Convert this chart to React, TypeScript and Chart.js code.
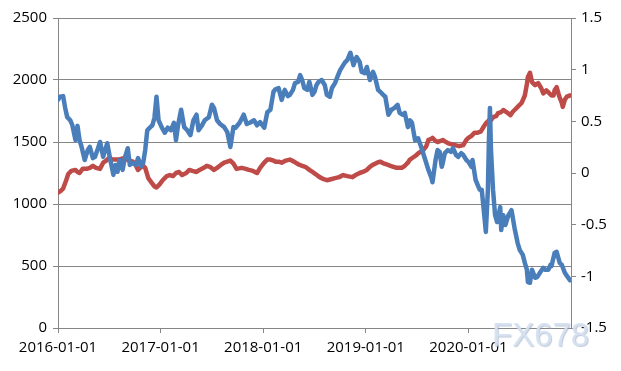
import React, { useEffect, useRef } from "react";
import { Chart, registerables } from "chart.js";

Chart.register(...registerables);

// x values are decimal years
const blueX = [
  2016.00, 2016.02, 2016.05, 2016.07, 2016.09, 2016.12, 2016.14, 2016.17, 2016.19, 2016.21,
  2016.23, 2016.26, 2016.29, 2016.31, 2016.34, 2016.36, 2016.39, 2016.41, 2016.44, 2016.46,
  2016.48, 2016.51, 2016.54, 2016.56, 2016.58, 2016.60, 2016.63, 2016.65, 2016.68, 2016.70,
  2016.73, 2016.76, 2016.78, 2016.81, 2016.83, 2016.85, 2016.87, 2016.90, 2016.92, 2016.94,
  2016.96, 2016.98, 2017.01, 2017.04, 2017.07, 2017.10, 2017.13, 2017.15, 2017.17, 2017.20,
  2017.23, 2017.26, 2017.29, 2017.32, 2017.35, 2017.37, 2017.40, 2017.43, 2017.47, 2017.50,
  2017.52, 2017.55, 2017.58, 2017.62, 2017.65, 2017.68, 2017.71, 2017.73, 2017.77, 2017.81,
  2017.84, 2017.87, 2017.91, 2017.94, 2017.97, 2018.01, 2018.04, 2018.07, 2018.10, 2018.12,
  2018.15, 2018.18, 2018.21, 2018.24, 2018.26, 2018.29, 2018.31, 2018.34, 2018.36, 2018.38,
  2018.40, 2018.43, 2018.45, 2018.48, 2018.50, 2018.52, 2018.54, 2018.57, 2018.60, 2018.62,
  2018.65, 2018.67, 2018.70, 2018.73, 2018.75, 2018.78, 2018.80, 2018.82, 2018.85, 2018.88,
  2018.89, 2018.91, 2018.94, 2018.96, 2018.99, 2019.01, 2019.04, 2019.07, 2019.09, 2019.12,
  2019.14, 2019.17, 2019.19, 2019.22, 2019.25, 2019.28, 2019.31, 2019.33, 2019.36, 2019.38,
  2019.41, 2019.43, 2019.45, 2019.48, 2019.51, 2019.54, 2019.58, 2019.61, 2019.64, 2019.65,
  2019.68, 2019.70, 2019.72, 2019.74, 2019.75, 2019.77, 2019.80, 2019.83, 2019.85, 2019.88,
  2019.90, 2019.93, 2019.95, 2019.98, 2020.00, 2020.03, 2020.04, 2020.07, 2020.09, 2020.11,
  2020.13, 2020.15, 2020.17, 2020.19, 2020.20, 2020.21, 2020.22, 2020.24, 2020.26, 2020.28,
  2020.31, 2020.32, 2020.34, 2020.36, 2020.39, 2020.41, 2020.42, 2020.45, 2020.48, 2020.50,
  2020.53, 2020.55, 2020.57, 2020.58, 2020.60, 2020.62, 2020.65, 2020.67, 2020.70, 2020.73,
  2020.75, 2020.78, 2020.80, 2020.81, 2020.84, 2020.86, 2020.89, 2020.91, 2020.94, 2020.96,
  2020.99,
];

const blueValues = [
  1840, 1865, 1870, 1775, 1700, 1675, 1635, 1515, 1630, 1515,
  1460, 1355, 1435, 1460, 1370, 1380, 1450, 1500, 1380, 1435,
  1490, 1355, 1235, 1315, 1260, 1355, 1275, 1370, 1450, 1315,
  1330, 1315, 1370, 1305, 1330, 1435, 1595, 1620, 1635, 1695,
  1865, 1675, 1620, 1575, 1615, 1595, 1655, 1515, 1635, 1760,
  1620, 1595, 1555, 1675, 1720, 1595, 1630, 1675, 1700, 1800,
  1775, 1675, 1645, 1620, 1580, 1460, 1620, 1615, 1655, 1720,
  1645, 1655, 1675, 1635, 1660, 1615, 1740, 1760, 1905, 1925,
  1935, 1840, 1920, 1870, 1880, 1920, 1975, 1985, 2040, 2000,
  1935, 1920, 1985, 1880, 1905, 1960, 1985, 2000, 1960, 1880,
  1865, 1935, 1975, 2040, 2080, 2120, 2145, 2160, 2220, 2120,
  2145, 2185, 2145, 2065, 2055, 2105, 2000, 2065, 2025, 1920,
  1905, 1880, 1865, 1720, 1760, 1775, 1800, 1735, 1720, 1735,
  1620, 1675, 1655, 1515, 1530, 1460, 1355, 1275, 1210, 1175,
  1355, 1435, 1420, 1300, 1330, 1410, 1435, 1420, 1450, 1395,
  1380, 1410, 1395, 1355, 1340, 1300, 1355, 1195, 1155, 1115,
  1115, 950, 775, 1115, 1515, 1775, 1435, 1115, 910, 855,
  975, 790, 910, 830, 910, 935, 950, 805, 685, 630,
  590, 525, 470, 370, 365, 470, 405, 410, 450, 485,
  470, 470, 510, 500, 605, 615, 525, 510, 445, 420,
  385,
];

const redX = [
  2016.00, 2016.03, 2016.05, 2016.08, 2016.10, 2016.13, 2016.17, 2016.19, 2016.21, 2016.24,
  2016.28, 2016.31, 2016.34, 2016.37, 2016.41, 2016.44, 2016.47, 2016.50, 2016.53, 2016.56,
  2016.59, 2016.63, 2016.67, 2016.70, 2016.73, 2016.76, 2016.78, 2016.80, 2016.83, 2016.85,
  2016.88, 2016.91, 2016.94, 2016.96, 2016.99, 2017.02, 2017.06, 2017.09, 2017.12, 2017.15,
  2017.18, 2017.21, 2017.25, 2017.28, 2017.31, 2017.35, 2017.38, 2017.42, 2017.45, 2017.48,
  2017.52, 2017.55, 2017.59, 2017.62, 2017.65, 2017.68, 2017.71, 2017.74, 2017.79, 2017.83,
  2017.86, 2017.90, 2017.94, 2017.97, 2018.01, 2018.04, 2018.07, 2018.10, 2018.12, 2018.15,
  2018.18, 2018.22, 2018.26, 2018.30, 2018.35, 2018.38, 2018.41, 2018.45, 2018.48, 2018.51,
  2018.55, 2018.59, 2018.62, 2018.66, 2018.70, 2018.74, 2018.78, 2018.82, 2018.87, 2018.90,
  2018.94, 2018.97, 2019.01, 2019.04, 2019.07, 2019.11, 2019.14, 2019.18, 2019.21, 2019.24,
  2019.27, 2019.30, 2019.35, 2019.38, 2019.41, 2019.43, 2019.46, 2019.49, 2019.51, 2019.54,
  2019.56, 2019.59, 2019.61, 2019.64, 2019.65, 2019.68, 2019.70, 2019.73, 2019.75, 2019.78,
  2019.80, 2019.83, 2019.87, 2019.91, 2019.95, 2019.98, 2020.00, 2020.03, 2020.06, 2020.09,
  2020.12, 2020.15, 2020.17, 2020.20, 2020.22, 2020.24, 2020.27, 2020.29, 2020.32, 2020.34,
  2020.37, 2020.41, 2020.43, 2020.45, 2020.48, 2020.52, 2020.55, 2020.57, 2020.58, 2020.60,
  2020.62, 2020.65, 2020.68, 2020.71, 2020.73, 2020.76, 2020.78, 2020.81, 2020.83, 2020.84,
  2020.86, 2020.88, 2020.89, 2020.91, 2020.92, 2020.94, 2020.96, 2020.99,
];

const redValues = [
  -0.19, -0.17, -0.15, -0.07, -0.01, 0.02, 0.03, 0.01, 0.00, 0.04,
  0.04, 0.05, 0.07, 0.05, 0.04, 0.10, 0.12, 0.15, 0.13, 0.13,
  0.13, 0.14, 0.13, 0.12, 0.11, 0.07, 0.03, 0.05, 0.07, 0.05,
  -0.05, -0.09, -0.13, -0.14, -0.11, -0.07, -0.03, -0.02, -0.03, 0.00,
  0.01, -0.02, 0.00, 0.03, 0.02, 0.01, 0.03, 0.05, 0.07, 0.06,
  0.03, 0.05, 0.08, 0.10, 0.11, 0.12, 0.09, 0.04, 0.05, 0.04,
  0.03, 0.02, 0.00, 0.05, 0.10, 0.13, 0.13, 0.12, 0.11, 0.11,
  0.10, 0.12, 0.13, 0.11, 0.08, 0.07, 0.06, 0.03, 0.01, -0.01,
  -0.04, -0.06, -0.07, -0.06, -0.05, -0.04, -0.02, -0.03, -0.04, -0.02,
  0.00, 0.01, 0.03, 0.06, 0.08, 0.10, 0.11, 0.09, 0.08, 0.07,
  0.06, 0.05, 0.05, 0.07, 0.10, 0.13, 0.15, 0.17, 0.19, 0.21,
  0.22, 0.26, 0.32, 0.33, 0.34, 0.31, 0.30, 0.31, 0.32, 0.30,
  0.29, 0.28, 0.27, 0.26, 0.27, 0.32, 0.34, 0.36, 0.39, 0.39,
  0.40, 0.45, 0.48, 0.51, 0.51, 0.54, 0.55, 0.58, 0.59, 0.61,
  0.59, 0.56, 0.59, 0.61, 0.64, 0.68, 0.75, 0.86, 0.93, 0.97,
  0.88, 0.85, 0.87, 0.82, 0.77, 0.80, 0.78, 0.75, 0.75, 0.80,
  0.83, 0.76, 0.73, 0.68, 0.64, 0.71, 0.74, 0.75,
];

const yearTicks = [2016, 2017, 2018, 2019, 2020];
const leftTicks = [0, 500, 1000, 1500, 2000, 2500];
const rightTicks = [-1.5, -1, -0.5, 0, 0.5, 1, 1.5];
const watermark = "FX678";

const FONT = { family: "'Open Sans', sans-serif", size: 15 };
const GRID = "#868686";

export default function App() {
  const ref = useRef<HTMLCanvasElement | null>(null);

  useEffect(() => {
    if (!ref.current) return;
    const chart = new Chart(ref.current, {
      type: "line",
      data: {
        datasets: [
          {
            data: blueX.map((x, i) => ({ x, y: blueValues[i] })),
            borderColor: "#4A7EBB",
            borderWidth: 4.5,
            pointRadius: 0,
            tension: 0,
            yAxisID: "y",
            borderJoinStyle: "round",
            borderCapStyle: "round",
          },
          {
            data: redX.map((x, i) => ({ x, y: redValues[i] })),
            borderColor: "#BE4B48",
            borderWidth: 4.5,
            pointRadius: 0,
            tension: 0,
            yAxisID: "y1",
            borderJoinStyle: "round",
            borderCapStyle: "round",
          },
        ],
      },
      options: {
        responsive: false,
        animation: false,
        layout: { padding: { top: 18, left: 0, right: 0, bottom: 0 } },
        plugins: { legend: { display: false }, tooltip: { enabled: false } },
        scales: {
          x: {
            type: "linear",
            min: 2016,
            max: 2021,
            afterBuildTicks: (s: any) => {
              s.ticks = yearTicks.map((v) => ({ value: v }));
            },
            afterFit: (s: any) => {
              s.height = 43;
            },
            ticks: {
              font: FONT,
              color: "#000",
              padding: 6,
              maxRotation: 0,
              autoSkip: false,
              callback: (v: any) => `${v}-01-01`,
            },
            grid: { drawOnChartArea: false, drawTicks: true, tickLength: 5, color: GRID },
            border: { color: GRID, width: 1 },
          },
          y: {
            position: "left",
            min: 0,
            max: 2500,
            afterBuildTicks: (s: any) => {
              s.ticks = leftTicks.map((v) => ({ value: v }));
            },
            afterFit: (s: any) => {
              s.width = 58;
            },
            ticks: { font: FONT, color: "#000", padding: 6, callback: (v: any) => String(v) },
            grid: { color: GRID, lineWidth: 1, tickLength: 5, drawTicks: true },
            border: { color: GRID, width: 1 },
          },
          y1: {
            position: "right",
            min: -1.5,
            max: 1.5,
            afterBuildTicks: (s: any) => {
              s.ticks = rightTicks.map((v) => ({ value: v }));
            },
            afterFit: (s: any) => {
              s.width = 50;
            },
            ticks: { font: FONT, color: "#000", padding: 5, callback: (v: any) => String(v) },
            grid: { drawOnChartArea: false, drawTicks: true, tickLength: 5, color: GRID },
            border: { color: GRID, width: 1 },
          },
        },
      },
    } as any);
    return () => chart.destroy();
  }, []);

  return (
    <div style={{ position: "absolute", left: 0, top: 0, width: 621, height: 371, background: "#fff" }}>
      <canvas ref={ref} width={621} height={371} style={{ display: "block" }} />
      <div
        style={{
          position: "absolute",
          left: 492,
          top: 316,
          fontFamily: "'Liberation Sans', Arial, sans-serif",
          fontSize: 33,
          lineHeight: "38px",
          color: "rgba(214, 226, 241, 0.95)",
          textShadow: "1px 1px 1px rgba(150,165,190,0.6)",
          letterSpacing: 0,
        }}
      >
        {watermark}
      </div>
    </div>
  );
}
